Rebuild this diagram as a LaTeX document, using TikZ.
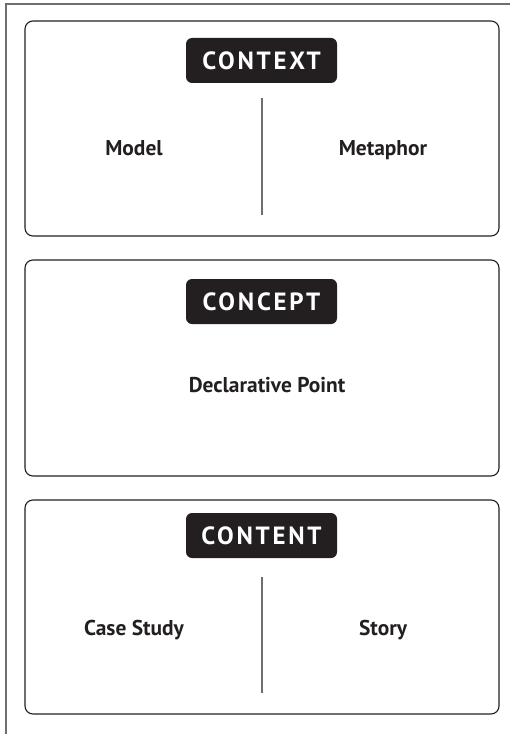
\documentclass[tikz,border=0pt]{standalone}
\usepackage{fontspec}
\setmainfont{PT Sans}
\usetikzlibrary{positioning}
\definecolor{inkdark}{HTML}{231F20}
\definecolor{rulegray}{HTML}{6D6E70}
\tikzset{
  panel/.style={draw=inkdark, line width=1.1bp, rounded corners=8bp},
  badge/.style={fill=inkdark, text=white, rounded corners=6bp, minimum width=151bp,
    minimum height=45bp, inner sep=0pt,
    font=\fontsize{25}{25}\selectfont\bfseries\addfontfeature{LetterSpace=11}},
  item/.style={text=inkdark, anchor=base, font=\fontsize{21.5}{21.5}\selectfont\bfseries},
  divider/.style={draw=rulegray, line width=1.5bp},
  frameline/.style={draw=rulegray, line width=1.2bp},
}
\begin{document}
\begin{tikzpicture}[x=1bp, y=-1bp]
			%%%%% START %%%%%
			\useasboundingbox (0,0) rectangle (510,734);
			
			\draw[frameline] (510,4) -- (6,4) -- (6,734);
			
			% context
			\draw[panel] (25,21) rectangle (499,236);
			\node[badge] (context) at (261.5,60.5) {CONTEXT};
			\node[item] (model) at (134,155) {Model};
			\node[item] (metaphor) at (383,155) {Metaphor};
			\coordinate (ctxtop) at (262,98);
			\coordinate (ctxbot) at (262,215);
			\draw[divider] (ctxtop) -- (ctxbot);
			
			% concept
			\draw[panel] (25,260) rectangle (499,476);
			\node[badge] (concept) at (261.5,301.5) {CONCEPT};
			\node[item] (declarative) at (267,392) {Declarative Point};
			
			% content
			\draw[panel] (25,500) rectangle (499,714);
			\node[badge] (content) at (261.5,535.5) {CONTENT};
			\node[item] (casestudy) at (134,635) {Case Study};
			\node[item] (story) at (383,635) {Story};
			\coordinate (cnttop) at (262,577);
			\coordinate (cntbot) at (262,693);
			\draw[divider] (cnttop) -- (cntbot);
			
			%%%%% END %%%%%
\end{tikzpicture}
\end{document}
